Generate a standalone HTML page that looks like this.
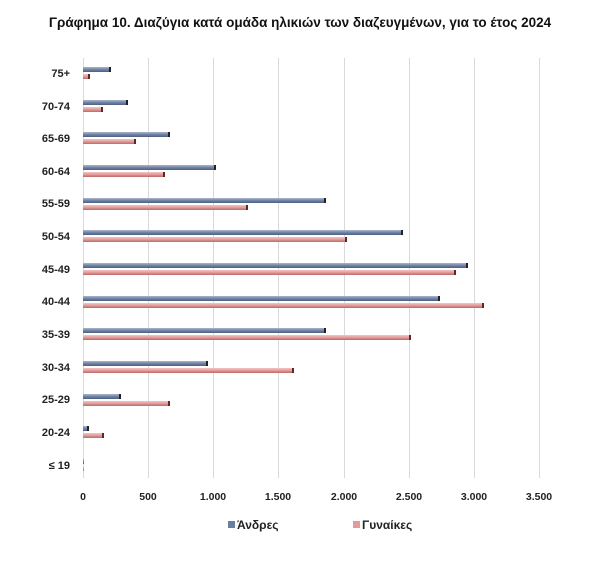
<!DOCTYPE html>
<html><head><meta charset="utf-8"><style>
body{margin:0;background:#fff;}
svg text{font-family:"Liberation Sans",sans-serif;}
</style></head><body>
<svg width="600" height="563" xmlns="http://www.w3.org/2000/svg">
<defs>
<linearGradient id="b" x1="0" y1="0" x2="0" y2="1"><stop offset="0" stop-color="#a9b6cc"/><stop offset="0.5" stop-color="#7084a6"/><stop offset="1" stop-color="#4c5f80"/></linearGradient>
<linearGradient id="p" x1="0" y1="0" x2="0" y2="1"><stop offset="0" stop-color="#f3c4c4"/><stop offset="0.5" stop-color="#e39a9a"/><stop offset="1" stop-color="#b96a6a"/></linearGradient>
</defs>
<text x="300" y="27" text-anchor="middle" font-size="13.5" font-weight="bold" fill="#111">Γράφημα 10. Διαζύγια κατά ομάδα ηλικιών των διαζευγμένων, για το έτος 2024</text>
<g stroke="#d9d9d9" stroke-width="1">
<line x1="83.5" y1="58" x2="83.5" y2="478"/><line x1="148.5" y1="58" x2="148.5" y2="478"/><line x1="213.5" y1="58" x2="213.5" y2="478"/><line x1="278.5" y1="58" x2="278.5" y2="478"/><line x1="344.5" y1="58" x2="344.5" y2="478"/><line x1="409.5" y1="58" x2="409.5" y2="478"/><line x1="474.5" y1="58" x2="474.5" y2="478"/><line x1="539.5" y1="58" x2="539.5" y2="478"/>
</g>
<g font-size="11" font-weight="bold" fill="#222" text-anchor="end">
<text x="70" y="77">75+</text><text x="70" y="110">70-74</text><text x="70" y="142">65-69</text><text x="70" y="175">60-64</text><text x="70" y="207">55-59</text><text x="70" y="240">50-54</text><text x="70" y="273">45-49</text><text x="70" y="305">40-44</text><text x="70" y="338">35-39</text><text x="70" y="371">30-34</text><text x="70" y="403">25-29</text><text x="70" y="436">20-24</text><text x="70" y="469">≤ 19</text>
</g>
<g fill="url(#b)">
<rect x="83" y="67" width="28" height="5"/>
<rect x="83" y="100" width="45" height="5"/>
<rect x="83" y="132" width="87" height="5"/>
<rect x="83" y="165" width="133" height="5"/>
<rect x="83" y="198" width="243" height="5"/>
<rect x="83" y="230" width="320" height="5"/>
<rect x="83" y="263" width="385" height="5"/>
<rect x="83" y="296" width="357" height="5"/>
<rect x="83" y="328" width="243" height="5"/>
<rect x="83" y="361" width="125" height="5"/>
<rect x="83" y="394" width="38" height="5"/>
<rect x="83" y="426" width="6" height="5"/>
<rect x="83" y="459" width="1" height="5"/>
</g>
<g fill="#222">
<rect x="109" y="67" width="2" height="5"/>
<rect x="126" y="100" width="2" height="5"/>
<rect x="168" y="132" width="2" height="5"/>
<rect x="214" y="165" width="2" height="5"/>
<rect x="324" y="198" width="2" height="5"/>
<rect x="401" y="230" width="2" height="5"/>
<rect x="466" y="263" width="2" height="5"/>
<rect x="438" y="296" width="2" height="5"/>
<rect x="324" y="328" width="2" height="5"/>
<rect x="206" y="361" width="2" height="5"/>
<rect x="119" y="394" width="2" height="5"/>
<rect x="87" y="426" width="2" height="5"/>
</g>
<g fill="url(#p)">
<rect x="83" y="74" width="7" height="5"/>
<rect x="83" y="107" width="20" height="5"/>
<rect x="83" y="139" width="53" height="5"/>
<rect x="83" y="172" width="82" height="5"/>
<rect x="83" y="205" width="165" height="5"/>
<rect x="83" y="237" width="264" height="5"/>
<rect x="83" y="270" width="373" height="5"/>
<rect x="83" y="303" width="401" height="5"/>
<rect x="83" y="335" width="328" height="5"/>
<rect x="83" y="368" width="211" height="5"/>
<rect x="83" y="401" width="87" height="5"/>
<rect x="83" y="433" width="21" height="5"/>
<rect x="83" y="466" width="1" height="5"/>
</g>
<g fill="#5a2a2a">
<rect x="88" y="74" width="2" height="5"/>
<rect x="101" y="107" width="2" height="5"/>
<rect x="134" y="139" width="2" height="5"/>
<rect x="163" y="172" width="2" height="5"/>
<rect x="246" y="205" width="2" height="5"/>
<rect x="345" y="237" width="2" height="5"/>
<rect x="454" y="270" width="2" height="5"/>
<rect x="482" y="303" width="2" height="5"/>
<rect x="409" y="335" width="2" height="5"/>
<rect x="292" y="368" width="2" height="5"/>
<rect x="168" y="401" width="2" height="5"/>
<rect x="102" y="433" width="2" height="5"/>
</g>
<g font-size="10.5" font-weight="bold" fill="#222" text-anchor="middle">
<text x="83" y="500">0</text><text x="148" y="500">500</text><text x="213" y="500">1.000</text><text x="278" y="500">1.500</text><text x="344" y="500">2.000</text><text x="409" y="500">2.500</text><text x="474" y="500">3.000</text><text x="539" y="500">3.500</text>
</g>
<rect x="228" y="521" width="7" height="7" fill="#6a7ea0"/>
<text x="237" y="529" font-size="12" font-weight="bold" fill="#222">Άνδρες</text>
<rect x="353" y="521" width="7" height="7" fill="#e39a9a"/>
<text x="362" y="529" font-size="12" font-weight="bold" fill="#222">Γυναίκες</text>
</svg>
</body></html>
